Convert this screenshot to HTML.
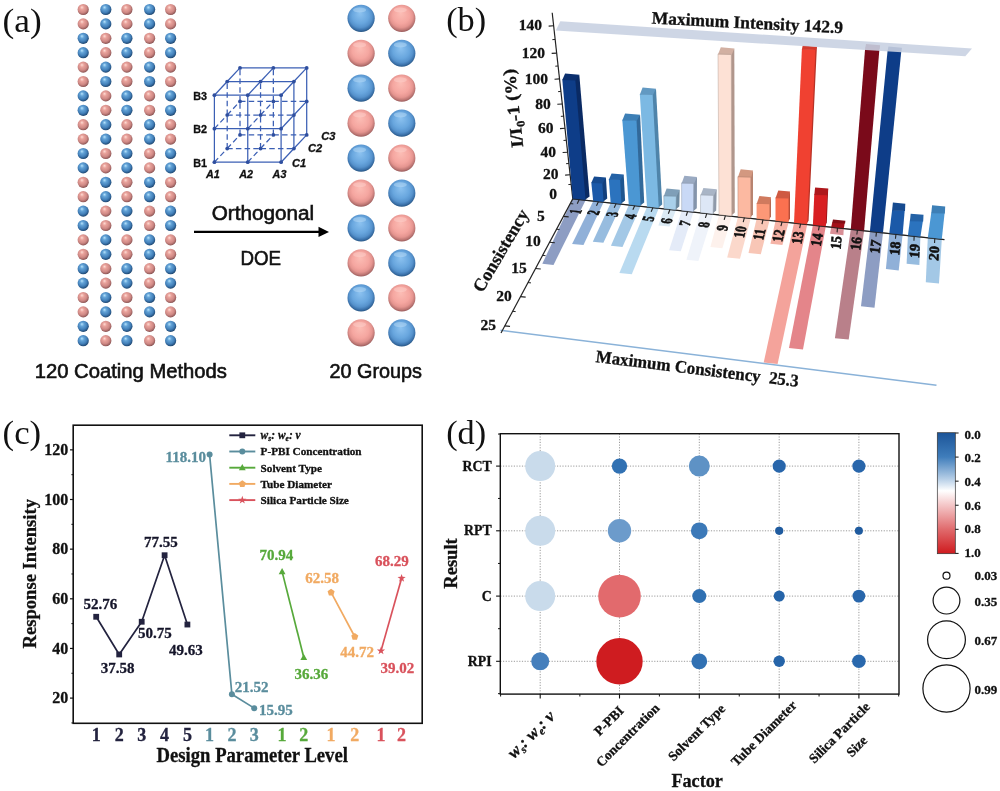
<!DOCTYPE html>
<html><head><meta charset="utf-8"><title>Figure</title>
<style>
html,body{margin:0;padding:0;background:#fff;}
body{width:1000px;height:791px;overflow:hidden;font-family:"Liberation Serif",serif;}
svg{display:block;will-change:transform;}
.sf{font-family:"Liberation Serif",serif;}
.ss{font-family:"Liberation Sans",sans-serif;}
.b{font-weight:bold;}
.i{font-style:italic;}
</style></head><body>
<svg width="1000" height="791" viewBox="0 0 1000 791">
<defs>
<radialGradient id="gp" cx="0.44" cy="0.40" r="0.60" fx="0.38" fy="0.30">
<stop offset="0" stop-color="#ffdcd4"/><stop offset="0.3" stop-color="#e9a29b"/><stop offset="0.68" stop-color="#cf8985"/><stop offset="0.88" stop-color="#a86a68"/><stop offset="1" stop-color="#834e4e"/>
</radialGradient>
<radialGradient id="gb" cx="0.44" cy="0.40" r="0.60" fx="0.38" fy="0.30">
<stop offset="0" stop-color="#b6e3fc"/><stop offset="0.3" stop-color="#63a3d7"/><stop offset="0.68" stop-color="#4380b9"/><stop offset="0.88" stop-color="#2b5d8f"/><stop offset="1" stop-color="#1c426a"/>
</radialGradient>
<radialGradient id="GP" cx="0.49" cy="0.44" r="0.56" fx="0.46" fy="0.32">
<stop offset="0" stop-color="#fcbdb5"/><stop offset="0.55" stop-color="#f5a6a0"/><stop offset="0.76" stop-color="#e59590"/><stop offset="0.9" stop-color="#bf7875"/><stop offset="1" stop-color="#9a5c5c"/>
</radialGradient>
<radialGradient id="GB" cx="0.49" cy="0.44" r="0.56" fx="0.46" fy="0.32">
<stop offset="0" stop-color="#8cc2f0"/><stop offset="0.55" stop-color="#68a6de"/><stop offset="0.76" stop-color="#5692cc"/><stop offset="0.9" stop-color="#3b72ab"/><stop offset="1" stop-color="#285684"/>
</radialGradient>
<linearGradient id="cbar" x1="0" y1="0" x2="0" y2="1">
<stop offset="0" stop-color="#1c5599"/><stop offset="0.2" stop-color="#3f7dbb"/><stop offset="0.38" stop-color="#b4cde6"/><stop offset="0.48" stop-color="#ffffff"/><stop offset="0.58" stop-color="#f6cfd0"/><stop offset="0.8" stop-color="#e06a6c"/><stop offset="1" stop-color="#cf1a1e"/>
</linearGradient>
</defs>
<rect x="0" y="0" width="1000" height="791" fill="#ffffff"/>

<g id="panelA">
<text x="2.6" y="31.8" class="sf" font-size="33.3" fill="#111" textLength="39.2" lengthAdjust="spacingAndGlyphs">(a)</text>
<circle cx="83.2" cy="9.5" r="5.6" fill="url(#gp)"/>
<circle cx="105.8" cy="9.5" r="5.6" fill="url(#gb)"/>
<circle cx="126.9" cy="9.5" r="5.6" fill="url(#gp)"/>
<circle cx="149.6" cy="9.5" r="5.6" fill="url(#gb)"/>
<circle cx="170.6" cy="9.5" r="5.6" fill="url(#gp)"/>
<circle cx="83.2" cy="23.9" r="5.6" fill="url(#gp)"/>
<circle cx="105.8" cy="23.9" r="5.6" fill="url(#gb)"/>
<circle cx="126.9" cy="23.9" r="5.6" fill="url(#gp)"/>
<circle cx="149.6" cy="23.9" r="5.6" fill="url(#gb)"/>
<circle cx="170.6" cy="23.9" r="5.6" fill="url(#gp)"/>
<circle cx="83.2" cy="38.3" r="5.6" fill="url(#gb)"/>
<circle cx="105.8" cy="38.3" r="5.6" fill="url(#gp)"/>
<circle cx="126.9" cy="38.3" r="5.6" fill="url(#gb)"/>
<circle cx="149.6" cy="38.3" r="5.6" fill="url(#gp)"/>
<circle cx="170.6" cy="38.3" r="5.6" fill="url(#gb)"/>
<circle cx="83.2" cy="52.7" r="5.6" fill="url(#gb)"/>
<circle cx="105.8" cy="52.7" r="5.6" fill="url(#gp)"/>
<circle cx="126.9" cy="52.7" r="5.6" fill="url(#gb)"/>
<circle cx="149.6" cy="52.7" r="5.6" fill="url(#gp)"/>
<circle cx="170.6" cy="52.7" r="5.6" fill="url(#gb)"/>
<circle cx="83.2" cy="67.1" r="5.6" fill="url(#gp)"/>
<circle cx="105.8" cy="67.1" r="5.6" fill="url(#gb)"/>
<circle cx="126.9" cy="67.1" r="5.6" fill="url(#gp)"/>
<circle cx="149.6" cy="67.1" r="5.6" fill="url(#gb)"/>
<circle cx="170.6" cy="67.1" r="5.6" fill="url(#gp)"/>
<circle cx="83.2" cy="81.5" r="5.6" fill="url(#gp)"/>
<circle cx="105.8" cy="81.5" r="5.6" fill="url(#gb)"/>
<circle cx="126.9" cy="81.5" r="5.6" fill="url(#gp)"/>
<circle cx="149.6" cy="81.5" r="5.6" fill="url(#gb)"/>
<circle cx="170.6" cy="81.5" r="5.6" fill="url(#gp)"/>
<circle cx="83.2" cy="95.9" r="5.6" fill="url(#gb)"/>
<circle cx="105.8" cy="95.9" r="5.6" fill="url(#gp)"/>
<circle cx="126.9" cy="95.9" r="5.6" fill="url(#gb)"/>
<circle cx="149.6" cy="95.9" r="5.6" fill="url(#gp)"/>
<circle cx="170.6" cy="95.9" r="5.6" fill="url(#gb)"/>
<circle cx="83.2" cy="110.3" r="5.6" fill="url(#gb)"/>
<circle cx="105.8" cy="110.3" r="5.6" fill="url(#gp)"/>
<circle cx="126.9" cy="110.3" r="5.6" fill="url(#gb)"/>
<circle cx="149.6" cy="110.3" r="5.6" fill="url(#gp)"/>
<circle cx="170.6" cy="110.3" r="5.6" fill="url(#gb)"/>
<circle cx="83.2" cy="124.7" r="5.6" fill="url(#gp)"/>
<circle cx="105.8" cy="124.7" r="5.6" fill="url(#gb)"/>
<circle cx="126.9" cy="124.7" r="5.6" fill="url(#gp)"/>
<circle cx="149.6" cy="124.7" r="5.6" fill="url(#gb)"/>
<circle cx="170.6" cy="124.7" r="5.6" fill="url(#gp)"/>
<circle cx="83.2" cy="139.1" r="5.6" fill="url(#gp)"/>
<circle cx="105.8" cy="139.1" r="5.6" fill="url(#gb)"/>
<circle cx="126.9" cy="139.1" r="5.6" fill="url(#gp)"/>
<circle cx="149.6" cy="139.1" r="5.6" fill="url(#gb)"/>
<circle cx="170.6" cy="139.1" r="5.6" fill="url(#gp)"/>
<circle cx="83.2" cy="153.5" r="5.6" fill="url(#gb)"/>
<circle cx="105.8" cy="153.5" r="5.6" fill="url(#gp)"/>
<circle cx="126.9" cy="153.5" r="5.6" fill="url(#gb)"/>
<circle cx="149.6" cy="153.5" r="5.6" fill="url(#gp)"/>
<circle cx="170.6" cy="153.5" r="5.6" fill="url(#gb)"/>
<circle cx="83.2" cy="167.9" r="5.6" fill="url(#gb)"/>
<circle cx="105.8" cy="167.9" r="5.6" fill="url(#gp)"/>
<circle cx="126.9" cy="167.9" r="5.6" fill="url(#gb)"/>
<circle cx="149.6" cy="167.9" r="5.6" fill="url(#gp)"/>
<circle cx="170.6" cy="167.9" r="5.6" fill="url(#gb)"/>
<circle cx="83.2" cy="182.3" r="5.6" fill="url(#gp)"/>
<circle cx="105.8" cy="182.3" r="5.6" fill="url(#gb)"/>
<circle cx="126.9" cy="182.3" r="5.6" fill="url(#gp)"/>
<circle cx="149.6" cy="182.3" r="5.6" fill="url(#gb)"/>
<circle cx="170.6" cy="182.3" r="5.6" fill="url(#gp)"/>
<circle cx="83.2" cy="196.7" r="5.6" fill="url(#gp)"/>
<circle cx="105.8" cy="196.7" r="5.6" fill="url(#gb)"/>
<circle cx="126.9" cy="196.7" r="5.6" fill="url(#gp)"/>
<circle cx="149.6" cy="196.7" r="5.6" fill="url(#gb)"/>
<circle cx="170.6" cy="196.7" r="5.6" fill="url(#gp)"/>
<circle cx="83.2" cy="211.1" r="5.6" fill="url(#gb)"/>
<circle cx="105.8" cy="211.1" r="5.6" fill="url(#gp)"/>
<circle cx="126.9" cy="211.1" r="5.6" fill="url(#gb)"/>
<circle cx="149.6" cy="211.1" r="5.6" fill="url(#gp)"/>
<circle cx="170.6" cy="211.1" r="5.6" fill="url(#gb)"/>
<circle cx="83.2" cy="225.5" r="5.6" fill="url(#gb)"/>
<circle cx="105.8" cy="225.5" r="5.6" fill="url(#gp)"/>
<circle cx="126.9" cy="225.5" r="5.6" fill="url(#gb)"/>
<circle cx="149.6" cy="225.5" r="5.6" fill="url(#gp)"/>
<circle cx="170.6" cy="225.5" r="5.6" fill="url(#gb)"/>
<circle cx="83.2" cy="239.9" r="5.6" fill="url(#gp)"/>
<circle cx="105.8" cy="239.9" r="5.6" fill="url(#gb)"/>
<circle cx="126.9" cy="239.9" r="5.6" fill="url(#gp)"/>
<circle cx="149.6" cy="239.9" r="5.6" fill="url(#gb)"/>
<circle cx="170.6" cy="239.9" r="5.6" fill="url(#gp)"/>
<circle cx="83.2" cy="254.3" r="5.6" fill="url(#gp)"/>
<circle cx="105.8" cy="254.3" r="5.6" fill="url(#gb)"/>
<circle cx="126.9" cy="254.3" r="5.6" fill="url(#gp)"/>
<circle cx="149.6" cy="254.3" r="5.6" fill="url(#gb)"/>
<circle cx="170.6" cy="254.3" r="5.6" fill="url(#gp)"/>
<circle cx="83.2" cy="268.7" r="5.6" fill="url(#gb)"/>
<circle cx="105.8" cy="268.7" r="5.6" fill="url(#gp)"/>
<circle cx="126.9" cy="268.7" r="5.6" fill="url(#gb)"/>
<circle cx="149.6" cy="268.7" r="5.6" fill="url(#gp)"/>
<circle cx="170.6" cy="268.7" r="5.6" fill="url(#gb)"/>
<circle cx="83.2" cy="283.1" r="5.6" fill="url(#gb)"/>
<circle cx="105.8" cy="283.1" r="5.6" fill="url(#gp)"/>
<circle cx="126.9" cy="283.1" r="5.6" fill="url(#gb)"/>
<circle cx="149.6" cy="283.1" r="5.6" fill="url(#gp)"/>
<circle cx="170.6" cy="283.1" r="5.6" fill="url(#gb)"/>
<circle cx="83.2" cy="297.5" r="5.6" fill="url(#gp)"/>
<circle cx="105.8" cy="297.5" r="5.6" fill="url(#gb)"/>
<circle cx="126.9" cy="297.5" r="5.6" fill="url(#gp)"/>
<circle cx="149.6" cy="297.5" r="5.6" fill="url(#gb)"/>
<circle cx="170.6" cy="297.5" r="5.6" fill="url(#gp)"/>
<circle cx="83.2" cy="311.9" r="5.6" fill="url(#gp)"/>
<circle cx="105.8" cy="311.9" r="5.6" fill="url(#gb)"/>
<circle cx="126.9" cy="311.9" r="5.6" fill="url(#gp)"/>
<circle cx="149.6" cy="311.9" r="5.6" fill="url(#gb)"/>
<circle cx="170.6" cy="311.9" r="5.6" fill="url(#gp)"/>
<circle cx="83.2" cy="326.3" r="5.6" fill="url(#gb)"/>
<circle cx="105.8" cy="326.3" r="5.6" fill="url(#gp)"/>
<circle cx="126.9" cy="326.3" r="5.6" fill="url(#gb)"/>
<circle cx="149.6" cy="326.3" r="5.6" fill="url(#gp)"/>
<circle cx="170.6" cy="326.3" r="5.6" fill="url(#gb)"/>
<circle cx="83.2" cy="340.7" r="5.6" fill="url(#gb)"/>
<circle cx="105.8" cy="340.7" r="5.6" fill="url(#gp)"/>
<circle cx="126.9" cy="340.7" r="5.6" fill="url(#gb)"/>
<circle cx="149.6" cy="340.7" r="5.6" fill="url(#gp)"/>
<circle cx="170.6" cy="340.7" r="5.6" fill="url(#gb)"/>
<circle cx="361.1" cy="18.3" r="13.6" fill="url(#GB)"/>
<ellipse cx="359.6" cy="10" rx="6.5" ry="2.6" fill="#c9e4fb" opacity="0.42"/>
<circle cx="401.8" cy="18.3" r="13.6" fill="url(#GP)"/>
<ellipse cx="400.3" cy="10" rx="6.5" ry="2.6" fill="#ffd9d4" opacity="0.42"/>
<circle cx="361.1" cy="53.25" r="13.6" fill="url(#GP)"/>
<ellipse cx="359.6" cy="44.95" rx="6.5" ry="2.6" fill="#ffd9d4" opacity="0.42"/>
<circle cx="401.8" cy="53.25" r="13.6" fill="url(#GB)"/>
<ellipse cx="400.3" cy="44.95" rx="6.5" ry="2.6" fill="#c9e4fb" opacity="0.42"/>
<circle cx="361.1" cy="88.2" r="13.6" fill="url(#GB)"/>
<ellipse cx="359.6" cy="79.9" rx="6.5" ry="2.6" fill="#c9e4fb" opacity="0.42"/>
<circle cx="401.8" cy="88.2" r="13.6" fill="url(#GP)"/>
<ellipse cx="400.3" cy="79.9" rx="6.5" ry="2.6" fill="#ffd9d4" opacity="0.42"/>
<circle cx="361.1" cy="123.15" r="13.6" fill="url(#GP)"/>
<ellipse cx="359.6" cy="114.85" rx="6.5" ry="2.6" fill="#ffd9d4" opacity="0.42"/>
<circle cx="401.8" cy="123.15" r="13.6" fill="url(#GB)"/>
<ellipse cx="400.3" cy="114.85" rx="6.5" ry="2.6" fill="#c9e4fb" opacity="0.42"/>
<circle cx="361.1" cy="158.1" r="13.6" fill="url(#GB)"/>
<ellipse cx="359.6" cy="149.8" rx="6.5" ry="2.6" fill="#c9e4fb" opacity="0.42"/>
<circle cx="401.8" cy="158.1" r="13.6" fill="url(#GP)"/>
<ellipse cx="400.3" cy="149.8" rx="6.5" ry="2.6" fill="#ffd9d4" opacity="0.42"/>
<circle cx="361.1" cy="193.05" r="13.6" fill="url(#GP)"/>
<ellipse cx="359.6" cy="184.75" rx="6.5" ry="2.6" fill="#ffd9d4" opacity="0.42"/>
<circle cx="401.8" cy="193.05" r="13.6" fill="url(#GB)"/>
<ellipse cx="400.3" cy="184.75" rx="6.5" ry="2.6" fill="#c9e4fb" opacity="0.42"/>
<circle cx="361.1" cy="228" r="13.6" fill="url(#GB)"/>
<ellipse cx="359.6" cy="219.7" rx="6.5" ry="2.6" fill="#c9e4fb" opacity="0.42"/>
<circle cx="401.8" cy="228" r="13.6" fill="url(#GP)"/>
<ellipse cx="400.3" cy="219.7" rx="6.5" ry="2.6" fill="#ffd9d4" opacity="0.42"/>
<circle cx="361.1" cy="262.95" r="13.6" fill="url(#GP)"/>
<ellipse cx="359.6" cy="254.65" rx="6.5" ry="2.6" fill="#ffd9d4" opacity="0.42"/>
<circle cx="401.8" cy="262.95" r="13.6" fill="url(#GB)"/>
<ellipse cx="400.3" cy="254.65" rx="6.5" ry="2.6" fill="#c9e4fb" opacity="0.42"/>
<circle cx="361.1" cy="297.9" r="13.6" fill="url(#GB)"/>
<ellipse cx="359.6" cy="289.6" rx="6.5" ry="2.6" fill="#c9e4fb" opacity="0.42"/>
<circle cx="401.8" cy="297.9" r="13.6" fill="url(#GP)"/>
<ellipse cx="400.3" cy="289.6" rx="6.5" ry="2.6" fill="#ffd9d4" opacity="0.42"/>
<circle cx="361.1" cy="332.85" r="13.6" fill="url(#GP)"/>
<ellipse cx="359.6" cy="324.55" rx="6.5" ry="2.6" fill="#ffd9d4" opacity="0.42"/>
<circle cx="401.8" cy="332.85" r="13.6" fill="url(#GB)"/>
<ellipse cx="400.3" cy="324.55" rx="6.5" ry="2.6" fill="#c9e4fb" opacity="0.42"/>
<line x1="214.4" y1="162.2" x2="247.75" y2="162.2" stroke="#3b5fb4" stroke-width="1.25"/>
<line x1="214.4" y1="162.2" x2="214.4" y2="128.7" stroke="#3b5fb4" stroke-width="1.25"/>
<line x1="214.4" y1="162.2" x2="227.2" y2="148.55" stroke="#3b5fb4" stroke-width="1.25" stroke-dasharray="5.5 3.2"/>
<line x1="227.2" y1="148.55" x2="260.55" y2="148.55" stroke="#3b5fb4" stroke-width="1.25" stroke-dasharray="5.5 3.2"/>
<line x1="227.2" y1="148.55" x2="227.2" y2="115.05" stroke="#3b5fb4" stroke-width="1.25" stroke-dasharray="5.5 3.2"/>
<line x1="227.2" y1="148.55" x2="240" y2="134.9" stroke="#3b5fb4" stroke-width="1.25" stroke-dasharray="5.5 3.2"/>
<line x1="240" y1="134.9" x2="273.35" y2="134.9" stroke="#3b5fb4" stroke-width="1.25" stroke-dasharray="5.5 3.2"/>
<line x1="240" y1="134.9" x2="240" y2="101.4" stroke="#3b5fb4" stroke-width="1.25" stroke-dasharray="5.5 3.2"/>
<line x1="214.4" y1="128.7" x2="247.75" y2="128.7" stroke="#3b5fb4" stroke-width="1.25"/>
<line x1="214.4" y1="128.7" x2="214.4" y2="95.2" stroke="#3b5fb4" stroke-width="1.25"/>
<line x1="214.4" y1="128.7" x2="227.2" y2="115.05" stroke="#3b5fb4" stroke-width="1.25" stroke-dasharray="5.5 3.2"/>
<line x1="227.2" y1="115.05" x2="260.55" y2="115.05" stroke="#3b5fb4" stroke-width="1.25" stroke-dasharray="5.5 3.2"/>
<line x1="227.2" y1="115.05" x2="227.2" y2="81.55" stroke="#3b5fb4" stroke-width="1.25" stroke-dasharray="5.5 3.2"/>
<line x1="227.2" y1="115.05" x2="240" y2="101.4" stroke="#3b5fb4" stroke-width="1.25" stroke-dasharray="5.5 3.2"/>
<line x1="240" y1="101.4" x2="273.35" y2="101.4" stroke="#3b5fb4" stroke-width="1.25" stroke-dasharray="5.5 3.2"/>
<line x1="240" y1="101.4" x2="240" y2="67.9" stroke="#3b5fb4" stroke-width="1.25" stroke-dasharray="5.5 3.2"/>
<line x1="214.4" y1="95.2" x2="247.75" y2="95.2" stroke="#3b5fb4" stroke-width="1.25"/>
<line x1="214.4" y1="95.2" x2="227.2" y2="81.55" stroke="#3b5fb4" stroke-width="1.25"/>
<line x1="227.2" y1="81.55" x2="260.55" y2="81.55" stroke="#3b5fb4" stroke-width="1.25"/>
<line x1="227.2" y1="81.55" x2="240" y2="67.9" stroke="#3b5fb4" stroke-width="1.25"/>
<line x1="240" y1="67.9" x2="273.35" y2="67.9" stroke="#3b5fb4" stroke-width="1.25"/>
<line x1="247.75" y1="162.2" x2="281.1" y2="162.2" stroke="#3b5fb4" stroke-width="1.25"/>
<line x1="247.75" y1="162.2" x2="247.75" y2="128.7" stroke="#3b5fb4" stroke-width="1.25"/>
<line x1="247.75" y1="162.2" x2="260.55" y2="148.55" stroke="#3b5fb4" stroke-width="1.25" stroke-dasharray="5.5 3.2"/>
<line x1="260.55" y1="148.55" x2="293.9" y2="148.55" stroke="#3b5fb4" stroke-width="1.25" stroke-dasharray="5.5 3.2"/>
<line x1="260.55" y1="148.55" x2="260.55" y2="115.05" stroke="#3b5fb4" stroke-width="1.25" stroke-dasharray="5.5 3.2"/>
<line x1="260.55" y1="148.55" x2="273.35" y2="134.9" stroke="#3b5fb4" stroke-width="1.25" stroke-dasharray="5.5 3.2"/>
<line x1="273.35" y1="134.9" x2="306.7" y2="134.9" stroke="#3b5fb4" stroke-width="1.25" stroke-dasharray="5.5 3.2"/>
<line x1="273.35" y1="134.9" x2="273.35" y2="101.4" stroke="#3b5fb4" stroke-width="1.25" stroke-dasharray="5.5 3.2"/>
<line x1="247.75" y1="128.7" x2="281.1" y2="128.7" stroke="#3b5fb4" stroke-width="1.25"/>
<line x1="247.75" y1="128.7" x2="247.75" y2="95.2" stroke="#3b5fb4" stroke-width="1.25"/>
<line x1="247.75" y1="128.7" x2="260.55" y2="115.05" stroke="#3b5fb4" stroke-width="1.25" stroke-dasharray="5.5 3.2"/>
<line x1="260.55" y1="115.05" x2="293.9" y2="115.05" stroke="#3b5fb4" stroke-width="1.25" stroke-dasharray="5.5 3.2"/>
<line x1="260.55" y1="115.05" x2="260.55" y2="81.55" stroke="#3b5fb4" stroke-width="1.25" stroke-dasharray="5.5 3.2"/>
<line x1="260.55" y1="115.05" x2="273.35" y2="101.4" stroke="#3b5fb4" stroke-width="1.25" stroke-dasharray="5.5 3.2"/>
<line x1="273.35" y1="101.4" x2="306.7" y2="101.4" stroke="#3b5fb4" stroke-width="1.25" stroke-dasharray="5.5 3.2"/>
<line x1="273.35" y1="101.4" x2="273.35" y2="67.9" stroke="#3b5fb4" stroke-width="1.25" stroke-dasharray="5.5 3.2"/>
<line x1="247.75" y1="95.2" x2="281.1" y2="95.2" stroke="#3b5fb4" stroke-width="1.25"/>
<line x1="247.75" y1="95.2" x2="260.55" y2="81.55" stroke="#3b5fb4" stroke-width="1.25"/>
<line x1="260.55" y1="81.55" x2="293.9" y2="81.55" stroke="#3b5fb4" stroke-width="1.25"/>
<line x1="260.55" y1="81.55" x2="273.35" y2="67.9" stroke="#3b5fb4" stroke-width="1.25"/>
<line x1="273.35" y1="67.9" x2="306.7" y2="67.9" stroke="#3b5fb4" stroke-width="1.25"/>
<line x1="281.1" y1="162.2" x2="281.1" y2="128.7" stroke="#3b5fb4" stroke-width="1.25"/>
<line x1="281.1" y1="162.2" x2="293.9" y2="148.55" stroke="#3b5fb4" stroke-width="1.25"/>
<line x1="293.9" y1="148.55" x2="293.9" y2="115.05" stroke="#3b5fb4" stroke-width="1.25"/>
<line x1="293.9" y1="148.55" x2="306.7" y2="134.9" stroke="#3b5fb4" stroke-width="1.25"/>
<line x1="306.7" y1="134.9" x2="306.7" y2="101.4" stroke="#3b5fb4" stroke-width="1.25"/>
<line x1="281.1" y1="128.7" x2="281.1" y2="95.2" stroke="#3b5fb4" stroke-width="1.25"/>
<line x1="281.1" y1="128.7" x2="293.9" y2="115.05" stroke="#3b5fb4" stroke-width="1.25"/>
<line x1="293.9" y1="115.05" x2="293.9" y2="81.55" stroke="#3b5fb4" stroke-width="1.25"/>
<line x1="293.9" y1="115.05" x2="306.7" y2="101.4" stroke="#3b5fb4" stroke-width="1.25"/>
<line x1="306.7" y1="101.4" x2="306.7" y2="67.9" stroke="#3b5fb4" stroke-width="1.25"/>
<line x1="281.1" y1="95.2" x2="293.9" y2="81.55" stroke="#3b5fb4" stroke-width="1.25"/>
<line x1="293.9" y1="81.55" x2="306.7" y2="67.9" stroke="#3b5fb4" stroke-width="1.25"/>
<circle cx="214.4" cy="162.2" r="1.9" fill="#2f4f9f"/>
<circle cx="227.2" cy="148.55" r="1.9" fill="#2f4f9f"/>
<circle cx="240" cy="134.9" r="1.9" fill="#2f4f9f"/>
<circle cx="214.4" cy="128.7" r="1.9" fill="#2f4f9f"/>
<circle cx="227.2" cy="115.05" r="1.9" fill="#2f4f9f"/>
<circle cx="240" cy="101.4" r="1.9" fill="#2f4f9f"/>
<circle cx="214.4" cy="95.2" r="1.9" fill="#2f4f9f"/>
<circle cx="227.2" cy="81.55" r="1.9" fill="#2f4f9f"/>
<circle cx="240" cy="67.9" r="1.9" fill="#2f4f9f"/>
<circle cx="247.75" cy="162.2" r="1.9" fill="#2f4f9f"/>
<circle cx="260.55" cy="148.55" r="1.9" fill="#2f4f9f"/>
<circle cx="273.35" cy="134.9" r="1.9" fill="#2f4f9f"/>
<circle cx="247.75" cy="128.7" r="1.9" fill="#2f4f9f"/>
<circle cx="260.55" cy="115.05" r="1.9" fill="#2f4f9f"/>
<circle cx="273.35" cy="101.4" r="1.9" fill="#2f4f9f"/>
<circle cx="247.75" cy="95.2" r="1.9" fill="#2f4f9f"/>
<circle cx="260.55" cy="81.55" r="1.9" fill="#2f4f9f"/>
<circle cx="273.35" cy="67.9" r="1.9" fill="#2f4f9f"/>
<circle cx="281.1" cy="162.2" r="1.9" fill="#2f4f9f"/>
<circle cx="293.9" cy="148.55" r="1.9" fill="#2f4f9f"/>
<circle cx="306.7" cy="134.9" r="1.9" fill="#2f4f9f"/>
<circle cx="281.1" cy="128.7" r="1.9" fill="#2f4f9f"/>
<circle cx="293.9" cy="115.05" r="1.9" fill="#2f4f9f"/>
<circle cx="306.7" cy="101.4" r="1.9" fill="#2f4f9f"/>
<circle cx="281.1" cy="95.2" r="1.9" fill="#2f4f9f"/>
<circle cx="293.9" cy="81.55" r="1.9" fill="#2f4f9f"/>
<circle cx="306.7" cy="67.9" r="1.9" fill="#2f4f9f"/>
<text x="193.3" y="166.8" class="ss b" font-size="11.3" fill="#111" textLength="13.8" lengthAdjust="spacingAndGlyphs" stroke="#111" stroke-width="0.3">B1</text>
<text x="193.3" y="133.3" class="ss b" font-size="11.3" fill="#111" textLength="13.8" lengthAdjust="spacingAndGlyphs" stroke="#111" stroke-width="0.3">B2</text>
<text x="193.3" y="99.8" class="ss b" font-size="11.3" fill="#111" textLength="13.8" lengthAdjust="spacingAndGlyphs" stroke="#111" stroke-width="0.3">B3</text>
<text x="205.9" y="178.2" class="ss b i" font-size="11" fill="#111" textLength="13.8" lengthAdjust="spacingAndGlyphs" stroke="#111" stroke-width="0.3">A1</text>
<text x="239.25" y="178.2" class="ss b i" font-size="11" fill="#111" textLength="13.8" lengthAdjust="spacingAndGlyphs" stroke="#111" stroke-width="0.3">A2</text>
<text x="272.6" y="178.2" class="ss b i" font-size="11" fill="#111" textLength="13.8" lengthAdjust="spacingAndGlyphs" stroke="#111" stroke-width="0.3">A3</text>
<text x="299.1" y="166.8" class="ss b i" font-size="11.5" fill="#111" text-anchor="middle" textLength="14.2" lengthAdjust="spacingAndGlyphs" stroke="#111" stroke-width="0.3">C1</text>
<text x="315" y="152.4" class="ss b i" font-size="11.5" fill="#111" text-anchor="middle" textLength="14.2" lengthAdjust="spacingAndGlyphs" stroke="#111" stroke-width="0.3">C2</text>
<text x="328.4" y="140.1" class="ss b i" font-size="11.5" fill="#111" text-anchor="middle" textLength="14.2" lengthAdjust="spacingAndGlyphs" stroke="#111" stroke-width="0.3">C3</text>
<line x1="194" y1="231.9" x2="320" y2="231.9" stroke="#000" stroke-width="2.3"/>
<polygon points="318.5,226.8 329,231.9 318.5,237" fill="#000"/>
<text x="211.7" y="220.2" class="ss" font-size="19.5" fill="#111" textLength="102.4" lengthAdjust="spacingAndGlyphs" stroke="#111" stroke-width="0.6">Orthogonal</text>
<text x="240.5" y="264.5" class="ss" font-size="20" fill="#111" textLength="40.6" lengthAdjust="spacingAndGlyphs" stroke="#111" stroke-width="0.6">DOE</text>
<text x="34.7" y="377.6" class="ss" font-size="19.5" fill="#111" textLength="192.3" lengthAdjust="spacingAndGlyphs" stroke="#111" stroke-width="0.6">120 Coating Methods</text>
<text x="329.5" y="377.6" class="ss" font-size="19.5" fill="#111" textLength="92.5" lengthAdjust="spacingAndGlyphs" stroke="#111" stroke-width="0.6">20 Groups</text>
</g>
<g id="panelB">
<text x="446.2" y="30.8" class="sf" font-size="33.3" fill="#111" textLength="40" lengthAdjust="spacingAndGlyphs">(b)</text>
<polygon points="572.8,198.9 585.6,200.3 553.5,264.92 542.3,263.8" fill="#8d9dc3"/>
<polygon points="593.2,201.13 603.6,202.27 583.5,245.04 572.1,243.9" fill="#90b0d8"/>
<polygon points="610.7,203.05 621.5,204.23 603.4,242.86 592.8,241.8" fill="#97bcdf"/>
<polygon points="628.8,205.03 640.6,206.32 622.5,246.96 610.9,245.8" fill="#a3c8e6"/>
<polygon points="647,207.02 658.8,208.31 631.8,274.14 619.4,272.9" fill="#b9daf0"/>
<polygon points="664,208.88 675.9,210.18 669.6,226.52 658.4,225.4" fill="#dbeaf4"/>
<polygon points="681.7,210.81 693.5,212.1 680.8,251.37 669.1,250.2" fill="#e4ebf8"/>
<polygon points="700.5,212.87 713,214.24 698.4,261 686.4,259.8" fill="#eff3fa"/>
<polygon points="719,214.89 731.8,216.29 722.4,248.2 710.4,247" fill="#fdf1ec"/>
<polygon points="738,216.97 750.8,218.37 740,258.68 727.2,257.4" fill="#fbd8cb"/>
<polygon points="756.6,219.01 769.5,220.42 760.8,254.13 748.5,252.9" fill="#f8c6b6"/>
<polygon points="775.5,221.08 788.6,222.51 782.4,245 770.4,243.8" fill="#f5b3a6"/>
<polygon points="794,223.1 807.2,224.54 777.6,363.99 763.7,362.6" fill="#f4a39b"/>
<polygon points="812.9,225.17 825.8,226.58 803,349.4 789,348" fill="#e4858a"/>
<polygon points="831.2,227.17 843.8,228.55 843.4,235.14 830,233.8" fill="#d98f96"/>
<polygon points="850.8,229.31 864.1,230.77 848.7,339.58 834.9,338.2" fill="#b9808a"/>
<polygon points="869.9,231.4 883,232.84 874.5,307.65 861,306.3" fill="#8d9dc3"/>
<polygon points="889.3,233.53 902.6,234.98 898.7,270.38 885.9,269.1" fill="#90b0d8"/>
<polygon points="907.9,235.56 920.4,236.93 919.4,265.08 906.6,263.8" fill="#97bcdf"/>
<polygon points="927.8,237.74 941.8,239.27 939,283.52 925.8,282.2" fill="#a3c8e6"/>
<line x1="500.5" y1="330.3" x2="936.5" y2="385.3" stroke="#8ab2d8" stroke-width="1.6"/>
<line x1="552.2" y1="12.8" x2="572.8" y2="198.9" stroke="#222" stroke-width="1.2"/>
<line x1="572.8" y1="198.9" x2="944.4" y2="239.6" stroke="#222" stroke-width="1.2"/>
<line x1="572.8" y1="198.9" x2="501.0" y2="333.0" stroke="#222" stroke-width="1.2"/>
<line x1="548.64" y1="26.1" x2="553.64" y2="25.8" stroke="#222" stroke-width="1.1"/>
<text x="542.04" y="30.4" class="sf b" font-size="15.5" fill="#111" text-anchor="end" stroke="#111" stroke-width="0.3">140</text>
<line x1="552.35" y1="39.65" x2="555.15" y2="39.45" stroke="#222" stroke-width="1"/>
<line x1="551.66" y1="53.4" x2="556.66" y2="53.1" stroke="#222" stroke-width="1.1"/>
<text x="545.06" y="57.7" class="sf b" font-size="15.5" fill="#111" text-anchor="end" stroke="#111" stroke-width="0.3">120</text>
<line x1="555.29" y1="66.2" x2="558.09" y2="66" stroke="#222" stroke-width="1"/>
<line x1="554.52" y1="79.2" x2="559.52" y2="78.9" stroke="#222" stroke-width="1.1"/>
<text x="547.92" y="83.5" class="sf b" font-size="15.5" fill="#111" text-anchor="end" stroke="#111" stroke-width="0.3">100</text>
<line x1="558.11" y1="91.65" x2="560.91" y2="91.45" stroke="#222" stroke-width="1"/>
<line x1="557.3" y1="104.3" x2="562.3" y2="104" stroke="#222" stroke-width="1.1"/>
<text x="550.7" y="108.6" class="sf b" font-size="15.5" fill="#111" text-anchor="end" stroke="#111" stroke-width="0.3">80</text>
<line x1="560.84" y1="116.35" x2="563.64" y2="116.15" stroke="#222" stroke-width="1"/>
<line x1="559.99" y1="128.6" x2="564.99" y2="128.3" stroke="#222" stroke-width="1.1"/>
<text x="553.39" y="132.9" class="sf b" font-size="15.5" fill="#111" text-anchor="end" stroke="#111" stroke-width="0.3">60</text>
<line x1="563.51" y1="140.45" x2="566.31" y2="140.25" stroke="#222" stroke-width="1"/>
<line x1="562.63" y1="152.5" x2="567.63" y2="152.2" stroke="#222" stroke-width="1.1"/>
<text x="556.03" y="156.8" class="sf b" font-size="15.5" fill="#111" text-anchor="end" stroke="#111" stroke-width="0.3">40</text>
<line x1="566.08" y1="163.7" x2="568.88" y2="163.5" stroke="#222" stroke-width="1"/>
<line x1="565.13" y1="175.1" x2="570.13" y2="174.8" stroke="#222" stroke-width="1.1"/>
<text x="558.53" y="179.4" class="sf b" font-size="15.5" fill="#111" text-anchor="end" stroke="#111" stroke-width="0.3">20</text>
<line x1="568.39" y1="184.55" x2="571.19" y2="184.35" stroke="#222" stroke-width="1"/>
<text x="557" y="198.5" class="sf b" font-size="15.5" fill="#111" text-anchor="end" stroke="#111" stroke-width="0.3">0</text>
<text transform="translate(513.6,108.4) rotate(-96.3)" class="sf b" font-size="17.5" fill="#111" text-anchor="middle" dy="5.4" textLength="79" lengthAdjust="spacingAndGlyphs" stroke="#111" stroke-width="0.3">I/I<tspan font-size="11.5" dy="3.6">0</tspan><tspan dy="-3.6">-1 (%)</tspan></text>
<line x1="563.47" y1="216.33" x2="568.67" y2="216.83" stroke="#222" stroke-width="1.1"/>
<text x="540.9" y="221.33" class="sf b" font-size="15.5" fill="#111" text-anchor="middle" stroke="#111" stroke-width="0.3">5</text>
<line x1="549.61" y1="242.21" x2="554.81" y2="242.71" stroke="#222" stroke-width="1.1"/>
<text x="540.81" y="246.41" class="sf b" font-size="15.5" fill="#111" text-anchor="end" stroke="#111" stroke-width="0.3">10</text>
<line x1="535.54" y1="268.5" x2="540.74" y2="269" stroke="#222" stroke-width="1.1"/>
<text x="526.74" y="272.7" class="sf b" font-size="15.5" fill="#111" text-anchor="end" stroke="#111" stroke-width="0.3">15</text>
<line x1="520.46" y1="296.66" x2="525.66" y2="297.16" stroke="#222" stroke-width="1.1"/>
<text x="511.66" y="300.86" class="sf b" font-size="15.5" fill="#111" text-anchor="end" stroke="#111" stroke-width="0.3">20</text>
<line x1="504.81" y1="325.89" x2="510.01" y2="326.39" stroke="#222" stroke-width="1.1"/>
<text x="496.01" y="330.09" class="sf b" font-size="15.5" fill="#111" text-anchor="end" stroke="#111" stroke-width="0.3">25</text>
<line x1="570.29" y1="203.59" x2="573.29" y2="203.89" stroke="#222" stroke-width="1"/>
<line x1="556.57" y1="229.21" x2="559.57" y2="229.51" stroke="#222" stroke-width="1"/>
<line x1="542.57" y1="255.36" x2="545.57" y2="255.66" stroke="#222" stroke-width="1"/>
<line x1="528" y1="282.58" x2="531" y2="282.88" stroke="#222" stroke-width="1"/>
<line x1="512.63" y1="311.28" x2="515.63" y2="311.58" stroke="#222" stroke-width="1"/>
<text transform="translate(501.3,251.0) rotate(-59.5)" class="sf b" font-size="18" fill="#111" text-anchor="middle" dy="5.2" textLength="92.5" lengthAdjust="spacingAndGlyphs" stroke="#111" stroke-width="0.3">Consistency</text>
<polygon points="574.1,79.79 574.1,78.99 579.3,74.77 589.6,196.5 584.4,200.3" fill="#0a2a63"/>
<polygon points="562.3,79.4 575.3,79.79 585.6,200.3 572.8,198.9" fill="#0e3d88"/>
<polygon points="562.3,80 565.1,73.6 579.3,74.77 575.6,80.39" fill="#0b2f6e"/>
<polygon points="601.1,182.83 601.1,182.03 605.9,177.39 607.2,198.47 602.4,202.27" fill="#123f7c"/>
<polygon points="591.3,182.5 602.3,182.83 603.6,202.27 593.2,201.13" fill="#1b59a8"/>
<polygon points="591.3,183.1 594.1,176.4 605.9,177.39 602.6,183.43" fill="#164b90"/>
<polygon points="618.9,179.44 618.9,178.64 623.7,174.42 625.1,200.43 620.3,204.23" fill="#1e568f"/>
<polygon points="608.8,179.1 620.1,179.44 621.5,204.23 610.7,203.05" fill="#2b73be"/>
<polygon points="608.8,179.7 611.6,173.4 623.7,174.42 620.4,180.04" fill="#2462a6"/>
<polygon points="635.3,120.23 635.3,119.43 640.1,114.68 644.2,202.52 639.4,206.32" fill="#32699a"/>
<polygon points="622.3,119.8 636.5,120.23 640.6,206.32 628.8,205.03" fill="#4b97d3"/>
<polygon points="622.3,120.4 625.1,113.4 640.1,114.68 636.8,120.83" fill="#3d7fb6"/>
<polygon points="651.4,94.48 651.4,93.68 656,88.65 662.2,204.51 657.6,208.31" fill="#4f84aa"/>
<polygon points="639.8,94.1 652.6,94.48 658.8,208.31 647,207.02" fill="#7cb9e3"/>
<polygon points="639.8,94.7 642.6,87.5 656,88.65 652.9,95.08" fill="#6299c2"/>
<polygon points="675.1,195.97 675.1,195.17 679.7,189.72 679.3,206.38 674.7,210.18" fill="#6d8aa0"/>
<polygon points="663.8,195.6 676.3,195.97 675.9,210.18 664,208.88" fill="#a9d0ea"/>
<polygon points="663.8,196.2 666.6,188.6 679.7,189.72 676.6,196.57" fill="#7f9fb8"/>
<polyline points="664,208.88 663.8,195.6 676.3,195.97 675.9,210.18" fill="none" stroke="#7995a8" stroke-width="0.5"/>
<polygon points="692.5,183.16 692.5,182.36 697,176.89 696.8,208.3 692.3,212.1" fill="#8494ab"/>
<polygon points="681.6,182.8 693.7,183.16 693.5,212.1 681.7,210.81" fill="#c9d9f6"/>
<polygon points="681.6,183.4 684.4,175.8 697,176.89 694,183.76" fill="#9aaac2"/>
<polyline points="681.7,210.81 681.6,182.8 693.7,183.16 693.5,212.1" fill="none" stroke="#909cb1" stroke-width="0.5"/>
<polygon points="712.3,195.09 712.3,194.29 716.7,189.16 716.2,210.44 711.8,214.24" fill="#8f9aaa"/>
<polygon points="700.6,194.7 713.5,195.09 713,214.24 700.5,212.87" fill="#dde7f6"/>
<polygon points="700.6,195.3 703.4,188 716.7,189.16 713.8,195.69" fill="#a9b5c6"/>
<polyline points="700.5,212.87 700.6,194.7 713.5,195.09 713,214.24" fill="none" stroke="#9fa6b1" stroke-width="0.5"/>
<polygon points="730.1,54.3 730.1,53.5 734.3,48.4 734.8,212.49 730.6,216.29" fill="#b0968c"/>
<polygon points="718,53.9 731.3,54.3 731.8,216.29 719,214.89" fill="#fde1d5"/>
<polygon points="718,54.5 720.8,47.2 734.3,48.4 731.6,54.9" fill="#d2b0a2"/>
<polyline points="719,214.89 718,53.9 731.3,54.3 731.8,216.29" fill="none" stroke="#b6a299" stroke-width="0.5"/>
<polygon points="749.6,176.99 749.6,176.19 753,170.46 753,214.57 749.6,218.37" fill="#b88470"/>
<polygon points="737.9,176.6 750.8,176.99 750.8,218.37 738,216.97" fill="#fcb9a1"/>
<polygon points="737.9,177.2 740.7,169.3 753,170.46 751.1,177.59" fill="#d39880"/>
<polyline points="738,216.97 737.9,176.6 750.8,176.99 750.8,218.37" fill="none" stroke="#b58573" stroke-width="0.5"/>
<polygon points="768.3,203.69 768.3,202.89 771,197.26 771,216.62 768.3,220.42" fill="#b76a52"/>
<polygon points="756.6,203.3 769.5,203.69 769.5,220.42 756.6,219.01" fill="#fc9877"/>
<polygon points="756.6,203.9 759.4,196.1 771,197.26 769.8,204.29" fill="#d07a5e"/>
<polygon points="787.4,197.99 787.4,197.19 790,191.58 790,218.71 787.4,222.51" fill="#b64e3a"/>
<polygon points="775.5,197.6 788.6,197.99 788.6,222.51 775.5,221.08" fill="#fb7150"/>
<polygon points="775.5,198.2 778.3,190.4 790,191.58 788.9,198.59" fill="#cf5a42"/>
<polygon points="814.3,49.41 814.3,48.61 816.9,46.82 808.6,220.74 806,224.54" fill="#b83226"/>
<polygon points="801.9,49 815.5,49.41 807.2,224.54 794,223.1" fill="#f04131"/>
<polygon points="801.9,49.6 802.7,45.6 816.9,46.82 815.8,50.01" fill="#d23a2c"/>
<polygon points="826,194.69 826,193.89 828.2,188.56 826.8,222.78 824.6,226.58" fill="#951418"/>
<polygon points="814.3,194.3 827.2,194.69 825.8,226.58 812.9,225.17" fill="#d81f22"/>
<polygon points="814.3,194.9 815.1,187.4 828.2,188.56 827.5,195.29" fill="#ae181c"/>
<polygon points="832.2,222.4 844.8,222.78 843.8,228.55 831.2,227.17" fill="#a3111a"/>
<polygon points="832.2,223 833,219.5 845.4,220.63 845.1,223.38" fill="#820d15"/>
<polygon points="865.2,47.6 879.5,48.03 864.1,230.77 850.8,229.31" fill="#7a0a1a"/>
<polygon points="865.2,48.2 866,44 880.1,45.29 879.8,48.63" fill="#650815"/>
<polygon points="887.6,50.5 901.3,50.91 883,232.84 869.9,231.4" fill="#0e3d88"/>
<polygon points="887.6,51.1 888.4,46.5 901.9,47.73 901.6,51.51" fill="#0b2f6e"/>
<polygon points="892.1,210 904.7,210.38 902.6,234.98 889.3,233.53" fill="#1b59a8"/>
<polygon points="892.1,210.6 892.9,202.6 905.3,203.73 905,210.98" fill="#164b90"/>
<polygon points="909.9,220.6 922.9,220.99 920.4,236.93 907.9,235.56" fill="#2b73be"/>
<polygon points="909.9,221.2 910.7,213.7 923.5,214.87 923.2,221.59" fill="#2462a6"/>
<polygon points="931.3,212.6 944.6,213 941.8,239.27 927.8,237.74" fill="#4b97d3"/>
<polygon points="931.3,213.2 932.1,205.2 945.2,206.4 944.9,213.6" fill="#3d7fb6"/>
<line x1="572.8" y1="198.9" x2="944.4" y2="239.6" stroke="#222" stroke-width="0.9" opacity="0.55"/>
<line x1="579.2" y1="199.6" x2="577.23" y2="203.65" stroke="#222" stroke-width="1.1"/>
<text transform="matrix(0.25 -0.5 0.99 0.11 575.6 211.6)" class="sf b" font-size="17" fill="#111" stroke="#111" stroke-width="0.7" text-anchor="middle" dy="5.6">1</text>
<line x1="598.4" y1="201.7" x2="596.43" y2="205.74" stroke="#222" stroke-width="1.1"/>
<text transform="matrix(0.25 -0.52 0.99 0.11 593.6 212.6)" class="sf b" font-size="17" fill="#111" stroke="#111" stroke-width="0.7" text-anchor="middle" dy="5.6">2</text>
<line x1="616.1" y1="203.64" x2="614.18" y2="207.71" stroke="#222" stroke-width="1.1"/>
<text transform="matrix(0.25 -0.53 0.98 0.11 612.2 214.3)" class="sf b" font-size="17" fill="#111" stroke="#111" stroke-width="0.7" text-anchor="middle" dy="5.6">3</text>
<line x1="634.7" y1="205.67" x2="632.86" y2="209.78" stroke="#222" stroke-width="1.1"/>
<text transform="matrix(0.25 -0.55 0.97 0.11 630.4 216.6)" class="sf b" font-size="17" fill="#111" stroke="#111" stroke-width="0.7" text-anchor="middle" dy="5.6">4</text>
<line x1="652.9" y1="207.66" x2="651.16" y2="211.81" stroke="#222" stroke-width="1.1"/>
<text transform="matrix(0.24 -0.57 0.96 0.11 648.4 218.6)" class="sf b" font-size="17" fill="#111" stroke="#111" stroke-width="0.7" text-anchor="middle" dy="5.6">5</text>
<line x1="669.95" y1="209.53" x2="668.37" y2="213.74" stroke="#222" stroke-width="1.1"/>
<text transform="matrix(0.22 -0.6 0.95 0.1 666.6 220.8)" class="sf b" font-size="17" fill="#111" stroke="#111" stroke-width="0.7" text-anchor="middle" dy="5.6">6</text>
<line x1="687.6" y1="211.46" x2="686.2" y2="215.74" stroke="#222" stroke-width="1.1"/>
<text transform="matrix(0.2 -0.62 0.94 0.1 685 223.3)" class="sf b" font-size="17" fill="#111" stroke="#111" stroke-width="0.7" text-anchor="middle" dy="5.6">7</text>
<line x1="706.75" y1="213.55" x2="705.42" y2="217.85" stroke="#222" stroke-width="1.1"/>
<text transform="matrix(0.2 -0.64 0.93 0.1 704 224.8)" class="sf b" font-size="17" fill="#111" stroke="#111" stroke-width="0.7" text-anchor="middle" dy="5.6">8</text>
<line x1="725.4" y1="215.59" x2="724.16" y2="219.92" stroke="#222" stroke-width="1.1"/>
<text transform="matrix(0.19 -0.66 0.93 0.1 722.4 227.9)" class="sf b" font-size="17" fill="#111" stroke="#111" stroke-width="0.7" text-anchor="middle" dy="5.6">9</text>
<line x1="744.4" y1="217.67" x2="743.22" y2="222.02" stroke="#222" stroke-width="1.1"/>
<text transform="matrix(0.18 -0.67 0.92 0.1 740.2 232)" class="sf b" font-size="17" fill="#111" stroke="#111" stroke-width="0.7" text-anchor="middle" dy="5.6">10</text>
<line x1="763.05" y1="219.71" x2="761.95" y2="224.08" stroke="#222" stroke-width="1.1"/>
<text transform="matrix(0.17 -0.69 0.91 0.1 759.2 234.4)" class="sf b" font-size="17" fill="#111" stroke="#111" stroke-width="0.7" text-anchor="middle" dy="5.6">11</text>
<line x1="782.05" y1="221.79" x2="780.93" y2="226.15" stroke="#222" stroke-width="1.1"/>
<text transform="matrix(0.18 -0.71 0.9 0.1 778.4 235.6)" class="sf b" font-size="17" fill="#111" stroke="#111" stroke-width="0.7" text-anchor="middle" dy="5.6">12</text>
<line x1="800.6" y1="223.82" x2="799.65" y2="228.22" stroke="#222" stroke-width="1.1"/>
<text transform="matrix(0.16 -0.73 0.89 0.1 797.6 237.8)" class="sf b" font-size="17" fill="#111" stroke="#111" stroke-width="0.7" text-anchor="middle" dy="5.6">13</text>
<line x1="819.35" y1="225.87" x2="818.5" y2="230.29" stroke="#222" stroke-width="1.1"/>
<text transform="matrix(0.14 -0.75 0.88 0.1 816.8 239.8)" class="sf b" font-size="17" fill="#111" stroke="#111" stroke-width="0.7" text-anchor="middle" dy="5.6">14</text>
<line x1="837.5" y1="227.86" x2="837.1" y2="232.34" stroke="#222" stroke-width="1.1"/>
<text transform="matrix(0.07 -0.77 0.88 0.1 836.1 242.6)" class="sf b" font-size="17" fill="#111" stroke="#111" stroke-width="0.7" text-anchor="middle" dy="5.6">15</text>
<line x1="857.45" y1="230.04" x2="856.81" y2="234.49" stroke="#222" stroke-width="1.1"/>
<text transform="matrix(0.11 -0.78 0.87 0.1 856.1 243.6)" class="sf b" font-size="17" fill="#111" stroke="#111" stroke-width="0.7" text-anchor="middle" dy="5.6">16</text>
<line x1="876.45" y1="232.12" x2="875.93" y2="236.59" stroke="#222" stroke-width="1.1"/>
<text transform="matrix(0.09 -0.8 0.86 0.09 875.3 246.8)" class="sf b" font-size="17" fill="#111" stroke="#111" stroke-width="0.7" text-anchor="middle" dy="5.6">17</text>
<line x1="895.95" y1="234.25" x2="895.48" y2="238.73" stroke="#222" stroke-width="1.1"/>
<text transform="matrix(0.09 -0.82 0.85 0.09 894.9 248.4)" class="sf b" font-size="17" fill="#111" stroke="#111" stroke-width="0.7" text-anchor="middle" dy="5.6">18</text>
<line x1="914.15" y1="236.24" x2="913.96" y2="240.74" stroke="#222" stroke-width="1.1"/>
<text transform="matrix(0.03 -0.83 0.84 0.09 914.5 251)" class="sf b" font-size="17" fill="#111" stroke="#111" stroke-width="0.7" text-anchor="middle" dy="5.6">19</text>
<line x1="934.8" y1="238.5" x2="934.55" y2="243" stroke="#222" stroke-width="1.1"/>
<text transform="matrix(0.05 -0.85 0.83 0.09 934.1 253.3)" class="sf b" font-size="17" fill="#111" stroke="#111" stroke-width="0.7" text-anchor="middle" dy="5.6">20</text>
<polygon points="560.3,21.2 972,48.6 965.3,56.3 555.8,30.6" fill="#c9d1e2" opacity="0.9"/>
<text transform="translate(651.5,23.6) rotate(2.9)" class="sf b" font-size="17.5" fill="#111" textLength="191.5" lengthAdjust="spacingAndGlyphs" stroke="#111" stroke-width="0.3">Maximum Intensity 142.9</text>
<text transform="translate(595.3,362.0) rotate(7.0)" class="sf b" font-size="17.5" fill="#111" textLength="204" lengthAdjust="spacingAndGlyphs" stroke="#111" stroke-width="0.3">Maximum Consistency&#160;&#160;25.3</text>
</g>
<g id="panelC">
<text x="2.6" y="443.6" class="sf" font-size="33.3" fill="#111" textLength="38.6" lengthAdjust="spacingAndGlyphs">(c)</text>
<rect x="73.2" y="425.2" width="349" height="298.1" fill="none" stroke="#111" stroke-width="1.6"/>
<line x1="70" y1="698.1" x2="73.2" y2="698.1" stroke="#111" stroke-width="1.2"/>
<text x="68.2" y="703.4" class="sf b" font-size="16" fill="#111" text-anchor="end" stroke="#111" stroke-width="0.3">20</text>
<line x1="70" y1="648.45" x2="73.2" y2="648.45" stroke="#111" stroke-width="1.2"/>
<text x="68.2" y="653.75" class="sf b" font-size="16" fill="#111" text-anchor="end" stroke="#111" stroke-width="0.3">40</text>
<line x1="70" y1="598.8" x2="73.2" y2="598.8" stroke="#111" stroke-width="1.2"/>
<text x="68.2" y="604.1" class="sf b" font-size="16" fill="#111" text-anchor="end" stroke="#111" stroke-width="0.3">60</text>
<line x1="70" y1="549.15" x2="73.2" y2="549.15" stroke="#111" stroke-width="1.2"/>
<text x="68.2" y="554.45" class="sf b" font-size="16" fill="#111" text-anchor="end" stroke="#111" stroke-width="0.3">80</text>
<line x1="70" y1="499.5" x2="73.2" y2="499.5" stroke="#111" stroke-width="1.2"/>
<text x="68.2" y="504.8" class="sf b" font-size="16" fill="#111" text-anchor="end" stroke="#111" stroke-width="0.3">100</text>
<line x1="70" y1="449.85" x2="73.2" y2="449.85" stroke="#111" stroke-width="1.2"/>
<text x="68.2" y="455.15" class="sf b" font-size="16" fill="#111" text-anchor="end" stroke="#111" stroke-width="0.3">120</text>
<line x1="71.4" y1="722.93" x2="73.2" y2="722.93" stroke="#111" stroke-width="1"/>
<line x1="71.4" y1="673.27" x2="73.2" y2="673.27" stroke="#111" stroke-width="1"/>
<line x1="71.4" y1="623.62" x2="73.2" y2="623.62" stroke="#111" stroke-width="1"/>
<line x1="71.4" y1="573.98" x2="73.2" y2="573.98" stroke="#111" stroke-width="1"/>
<line x1="71.4" y1="524.33" x2="73.2" y2="524.33" stroke="#111" stroke-width="1"/>
<line x1="71.4" y1="474.68" x2="73.2" y2="474.68" stroke="#111" stroke-width="1"/>
<text transform="translate(35.8,573.8) rotate(-90)" class="sf b" font-size="18.5" fill="#111" text-anchor="middle" textLength="149.5" lengthAdjust="spacingAndGlyphs" stroke="#111" stroke-width="0.3">Response Intensity</text>
<text x="156.6" y="761.6" class="sf b" font-size="20" fill="#111" textLength="191.3" lengthAdjust="spacingAndGlyphs" stroke="#111" stroke-width="0.3">Design Parameter Level</text>
<polyline points="96.2,616.77 119.2,654.46 141.7,621.76 164.6,555.23 187.4,624.54" fill="none" stroke="#23233f" stroke-width="1.7" stroke-linejoin="round"/>
<rect x="93.3" y="613.87" width="5.8" height="5.8" fill="#23233f"/>
<rect x="116.3" y="651.56" width="5.8" height="5.8" fill="#23233f"/>
<rect x="138.8" y="618.86" width="5.8" height="5.8" fill="#23233f"/>
<rect x="161.7" y="552.33" width="5.8" height="5.8" fill="#23233f"/>
<rect x="184.5" y="621.64" width="5.8" height="5.8" fill="#23233f"/>
<text x="96.2" y="740.8" class="sf b" font-size="18" fill="#23233f" text-anchor="middle" stroke="#23233f" stroke-width="0.3">1</text>
<text x="119.2" y="740.8" class="sf b" font-size="18" fill="#23233f" text-anchor="middle" stroke="#23233f" stroke-width="0.3">2</text>
<text x="141.7" y="740.8" class="sf b" font-size="18" fill="#23233f" text-anchor="middle" stroke="#23233f" stroke-width="0.3">3</text>
<text x="164.6" y="740.8" class="sf b" font-size="18" fill="#23233f" text-anchor="middle" stroke="#23233f" stroke-width="0.3">4</text>
<text x="187.4" y="740.8" class="sf b" font-size="18" fill="#23233f" text-anchor="middle" stroke="#23233f" stroke-width="0.3">5</text>
<polyline points="209.6,454.57 231.9,694.33 254.2,708.15" fill="none" stroke="#5a8d9d" stroke-width="1.7" stroke-linejoin="round"/>
<circle cx="209.6" cy="454.57" r="3" fill="#5a8d9d"/>
<circle cx="231.9" cy="694.33" r="3" fill="#5a8d9d"/>
<circle cx="254.2" cy="708.15" r="3" fill="#5a8d9d"/>
<text x="209.6" y="740.8" class="sf b" font-size="18" fill="#5a8d9d" text-anchor="middle" stroke="#5a8d9d" stroke-width="0.3">1</text>
<text x="231.9" y="740.8" class="sf b" font-size="18" fill="#5a8d9d" text-anchor="middle" stroke="#5a8d9d" stroke-width="0.3">2</text>
<text x="254.2" y="740.8" class="sf b" font-size="18" fill="#5a8d9d" text-anchor="middle" stroke="#5a8d9d" stroke-width="0.3">3</text>
<polyline points="282.1,571.64 303.8,657.49" fill="none" stroke="#57a93b" stroke-width="1.7" stroke-linejoin="round"/>
<polygon points="282.1,568.04 278.68,574.23 285.52,574.23" fill="#57a93b"/>
<polygon points="303.8,653.89 300.38,660.08 307.22,660.08" fill="#57a93b"/>
<text x="282.1" y="740.8" class="sf b" font-size="18" fill="#57a93b" text-anchor="middle" stroke="#57a93b" stroke-width="0.3">1</text>
<text x="303.8" y="740.8" class="sf b" font-size="18" fill="#57a93b" text-anchor="middle" stroke="#57a93b" stroke-width="0.3">2</text>
<polyline points="331.1,592.4 354.8,636.73" fill="none" stroke="#f1aa62" stroke-width="1.7" stroke-linejoin="round"/>
<polygon points="331.1,588.7 334.62,591.25 333.27,595.39 328.93,595.39 327.58,591.25" fill="#f1aa62"/>
<polygon points="354.8,633.03 358.32,635.59 356.97,639.73 352.63,639.73 351.28,635.59" fill="#f1aa62"/>
<text x="331.1" y="740.8" class="sf b" font-size="18" fill="#f1aa62" text-anchor="middle" stroke="#f1aa62" stroke-width="0.3">1</text>
<text x="354.8" y="740.8" class="sf b" font-size="18" fill="#f1aa62" text-anchor="middle" stroke="#f1aa62" stroke-width="0.3">2</text>
<polyline points="381,650.88 401.6,578.22" fill="none" stroke="#d9525c" stroke-width="1.7" stroke-linejoin="round"/>
<polygon points="381,646.58 382,649.51 385.09,649.55 382.62,651.41 383.53,654.36 381,652.58 378.47,654.36 379.38,651.41 376.91,649.55 380,649.51" fill="#d9525c"/>
<polygon points="401.6,573.92 402.6,576.84 405.69,576.89 403.22,578.75 404.13,581.7 401.6,579.92 399.07,581.7 399.98,578.75 397.51,576.89 400.6,576.84" fill="#d9525c"/>
<text x="381" y="740.8" class="sf b" font-size="18" fill="#d9525c" text-anchor="middle" stroke="#d9525c" stroke-width="0.3">1</text>
<text x="401.6" y="740.8" class="sf b" font-size="18" fill="#d9525c" text-anchor="middle" stroke="#d9525c" stroke-width="0.3">2</text>
<text x="83.5" y="609.4" class="sf b" font-size="15" fill="#15152a" stroke="#15152a" stroke-width="0.3">52.76</text>
<text x="100.8" y="673" class="sf b" font-size="15" fill="#15152a" stroke="#15152a" stroke-width="0.3">37.58</text>
<text x="138" y="638.2" class="sf b" font-size="15" fill="#15152a" stroke="#15152a" stroke-width="0.3">50.75</text>
<text x="144" y="547" class="sf b" font-size="15" fill="#15152a" stroke="#15152a" stroke-width="0.3">77.55</text>
<text x="169" y="655" class="sf b" font-size="15" fill="#15152a" stroke="#15152a" stroke-width="0.3">49.63</text>
<text x="165.6" y="461.8" class="sf b" font-size="15" fill="#5a8d9d" stroke="#5a8d9d" stroke-width="0.3">118.10</text>
<text x="234.8" y="692.3" class="sf b" font-size="15" fill="#5a8d9d" stroke="#5a8d9d" stroke-width="0.3">21.52</text>
<text x="259" y="715" class="sf b" font-size="15" fill="#5a8d9d" stroke="#5a8d9d" stroke-width="0.3">15.95</text>
<text x="259.4" y="560.3" class="sf b" font-size="15" fill="#57a93b" stroke="#57a93b" stroke-width="0.3">70.94</text>
<text x="294.4" y="679.2" class="sf b" font-size="15" fill="#57a93b" stroke="#57a93b" stroke-width="0.3">36.36</text>
<text x="305.2" y="583.2" class="sf b" font-size="15" fill="#f1aa62" stroke="#f1aa62" stroke-width="0.3">62.58</text>
<text x="340.2" y="656.6" class="sf b" font-size="15" fill="#f1aa62" stroke="#f1aa62" stroke-width="0.3">44.72</text>
<text x="374.9" y="565.9" class="sf b" font-size="15" fill="#d9525c" stroke="#d9525c" stroke-width="0.3">68.29</text>
<text x="380.4" y="672.6" class="sf b" font-size="15" fill="#d9525c" stroke="#d9525c" stroke-width="0.3">39.02</text>
<line x1="229.3" y1="435.3" x2="255.3" y2="435.3" stroke="#23233f" stroke-width="1.9"/>
<rect x="239.4" y="432.4" width="5.8" height="5.8" fill="#23233f"/>
<text x="260.6" y="438.5" class="sf b i" font-size="11.5" fill="#111" stroke="#111" stroke-width="0.3">w<tspan font-size="7.5" dy="2.4">s</tspan><tspan dy="-2.4">: w</tspan><tspan font-size="7.5" dy="2.4">e</tspan><tspan dy="-2.4">: v</tspan></text>
<line x1="229.3" y1="451.5" x2="255.3" y2="451.5" stroke="#5a8d9d" stroke-width="1.9"/>
<circle cx="242.3" cy="451.5" r="3" fill="#5a8d9d"/>
<text x="260.6" y="455.3" class="sf b" font-size="11.2" fill="#111" stroke="#111" stroke-width="0.3">P-PBI Concentration</text>
<line x1="229.3" y1="467.7" x2="255.3" y2="467.7" stroke="#57a93b" stroke-width="1.9"/>
<polygon points="242.3,464.1 238.88,470.29 245.72,470.29" fill="#57a93b"/>
<text x="260.6" y="471.5" class="sf b" font-size="11.2" fill="#111" stroke="#111" stroke-width="0.3">Solvent Type</text>
<line x1="229.3" y1="483.9" x2="255.3" y2="483.9" stroke="#f1aa62" stroke-width="1.9"/>
<polygon points="242.3,480.2 245.82,482.76 244.47,486.89 240.13,486.89 238.78,482.76" fill="#f1aa62"/>
<text x="260.6" y="487.7" class="sf b" font-size="11.2" fill="#111" stroke="#111" stroke-width="0.3">Tube Diameter</text>
<line x1="229.3" y1="500.1" x2="255.3" y2="500.1" stroke="#d9525c" stroke-width="1.9"/>
<polygon points="242.3,495.8 243.3,498.72 246.39,498.77 243.92,500.63 244.83,503.58 242.3,501.8 239.77,503.58 240.68,500.63 238.21,498.77 241.3,498.72" fill="#d9525c"/>
<text x="260.6" y="503.9" class="sf b" font-size="11.2" fill="#111" stroke="#111" stroke-width="0.3">Silica Particle Size</text>
</g>
<g id="panelD">
<text x="446.2" y="443.8" class="sf" font-size="33.3" fill="#111" textLength="40" lengthAdjust="spacingAndGlyphs">(d)</text>
<line x1="540.2" y1="433.7" x2="540.2" y2="694.1" stroke="#8e8e8e" stroke-width="0.9" stroke-dasharray="1.2 1.5"/>
<line x1="619.5" y1="433.7" x2="619.5" y2="694.1" stroke="#8e8e8e" stroke-width="0.9" stroke-dasharray="1.2 1.5"/>
<line x1="699.3" y1="433.7" x2="699.3" y2="694.1" stroke="#8e8e8e" stroke-width="0.9" stroke-dasharray="1.2 1.5"/>
<line x1="779.2" y1="433.7" x2="779.2" y2="694.1" stroke="#8e8e8e" stroke-width="0.9" stroke-dasharray="1.2 1.5"/>
<line x1="858.9" y1="433.7" x2="858.9" y2="694.1" stroke="#8e8e8e" stroke-width="0.9" stroke-dasharray="1.2 1.5"/>
<line x1="500.3" y1="466.1" x2="899.0" y2="466.1" stroke="#8e8e8e" stroke-width="0.9" stroke-dasharray="1.2 1.5"/>
<line x1="500.3" y1="530.8" x2="899.0" y2="530.8" stroke="#8e8e8e" stroke-width="0.9" stroke-dasharray="1.2 1.5"/>
<line x1="500.3" y1="596.1" x2="899.0" y2="596.1" stroke="#8e8e8e" stroke-width="0.9" stroke-dasharray="1.2 1.5"/>
<line x1="500.3" y1="661.3" x2="899.0" y2="661.3" stroke="#8e8e8e" stroke-width="0.9" stroke-dasharray="1.2 1.5"/>
<circle cx="540.2" cy="466.1" r="15" fill="#c9dbeb"/>
<circle cx="540.2" cy="530.8" r="15" fill="#c9dbeb"/>
<circle cx="540.2" cy="596.1" r="15" fill="#c9dbeb"/>
<circle cx="540.2" cy="661.3" r="9" fill="#457fbc"/>
<circle cx="619.5" cy="466.1" r="7.7" fill="#3171b3"/>
<circle cx="619.5" cy="530.8" r="11.7" fill="#6c9bcb"/>
<circle cx="619.5" cy="596.1" r="21.3" fill="#e26a6d"/>
<circle cx="619.5" cy="661.3" r="23.2" fill="#cf1c20"/>
<circle cx="699.3" cy="466.1" r="10.5" fill="#5e92c5"/>
<circle cx="699.3" cy="530.8" r="8.4" fill="#3c79b8"/>
<circle cx="699.3" cy="596.1" r="7" fill="#2f70b2"/>
<circle cx="699.3" cy="661.3" r="7.9" fill="#3171b3"/>
<circle cx="779.2" cy="466.1" r="6.6" fill="#2866ab"/>
<circle cx="779.2" cy="530.8" r="4.1" fill="#1f5b9f"/>
<circle cx="779.2" cy="596.1" r="5.5" fill="#2564a9"/>
<circle cx="779.2" cy="661.3" r="5.7" fill="#2564a9"/>
<circle cx="858.9" cy="466.1" r="6.6" fill="#2866ab"/>
<circle cx="858.9" cy="530.8" r="4" fill="#1f5b9f"/>
<circle cx="858.9" cy="596.1" r="6.4" fill="#2866ab"/>
<circle cx="858.9" cy="661.3" r="6.8" fill="#2968ad"/>
<rect x="500.3" y="433.7" width="398.7" height="260.4" fill="none" stroke="#111" stroke-width="1.4"/>
<line x1="496.1" y1="466.1" x2="500.3" y2="466.1" stroke="#111" stroke-width="1.1"/>
<text x="491.6" y="470.7" class="sf b" font-size="13.8" fill="#111" text-anchor="end" stroke="#111" stroke-width="0.3">RCT</text>
<line x1="496.1" y1="530.8" x2="500.3" y2="530.8" stroke="#111" stroke-width="1.1"/>
<text x="491.6" y="535.4" class="sf b" font-size="13.8" fill="#111" text-anchor="end" stroke="#111" stroke-width="0.3">RPT</text>
<line x1="496.1" y1="596.1" x2="500.3" y2="596.1" stroke="#111" stroke-width="1.1"/>
<text x="491.6" y="600.7" class="sf b" font-size="13.8" fill="#111" text-anchor="end" stroke="#111" stroke-width="0.3">C</text>
<line x1="496.1" y1="661.3" x2="500.3" y2="661.3" stroke="#111" stroke-width="1.1"/>
<text x="491.6" y="665.9" class="sf b" font-size="13.8" fill="#111" text-anchor="end" stroke="#111" stroke-width="0.3">RPI</text>
<line x1="498" y1="498.45" x2="500.3" y2="498.45" stroke="#111" stroke-width="1"/>
<line x1="498" y1="563.45" x2="500.3" y2="563.45" stroke="#111" stroke-width="1"/>
<line x1="498" y1="628.7" x2="500.3" y2="628.7" stroke="#111" stroke-width="1"/>
<line x1="498" y1="434.05" x2="500.3" y2="434.05" stroke="#111" stroke-width="1"/>
<line x1="498" y1="693.65" x2="500.3" y2="693.65" stroke="#111" stroke-width="1"/>
<line x1="540.2" y1="694.1" x2="540.2" y2="698.5" stroke="#111" stroke-width="1.1"/>
<line x1="619.5" y1="694.1" x2="619.5" y2="698.5" stroke="#111" stroke-width="1.1"/>
<line x1="699.3" y1="694.1" x2="699.3" y2="698.5" stroke="#111" stroke-width="1.1"/>
<line x1="779.2" y1="694.1" x2="779.2" y2="698.5" stroke="#111" stroke-width="1.1"/>
<line x1="858.9" y1="694.1" x2="858.9" y2="698.5" stroke="#111" stroke-width="1.1"/>
<line x1="579.85" y1="694.1" x2="579.85" y2="696.5" stroke="#111" stroke-width="1"/>
<line x1="659.4" y1="694.1" x2="659.4" y2="696.5" stroke="#111" stroke-width="1"/>
<line x1="739.25" y1="694.1" x2="739.25" y2="696.5" stroke="#111" stroke-width="1"/>
<line x1="819.05" y1="694.1" x2="819.05" y2="696.5" stroke="#111" stroke-width="1"/>
<line x1="500.6" y1="694.1" x2="500.6" y2="696.5" stroke="#111" stroke-width="1"/>
<line x1="898.7" y1="694.1" x2="898.7" y2="696.5" stroke="#111" stroke-width="1"/>
<text transform="translate(457.2,563.5) rotate(-90)" class="sf b" font-size="18.5" fill="#111" text-anchor="middle" textLength="50.5" lengthAdjust="spacingAndGlyphs" stroke="#111" stroke-width="0.3">Result</text>
<text x="671.4" y="787.3" class="sf b" font-size="18.5" fill="#111" textLength="51.5" lengthAdjust="spacingAndGlyphs" stroke="#111" stroke-width="0.3">Factor</text>
<text transform="translate(609,721) rotate(-45)" class="sf b" font-size="13.5" fill="#111" text-anchor="middle" dy="4.3" stroke="#111" stroke-width="0.3">P-PBI</text>
<text transform="translate(627.8,735.2) rotate(-45)" class="sf b" font-size="13.5" fill="#111" text-anchor="middle" dy="4.3" stroke="#111" stroke-width="0.3">Concentration</text>
<text transform="translate(696.6,732.6) rotate(-45)" class="sf b" font-size="13.5" fill="#111" text-anchor="middle" dy="4.3" stroke="#111" stroke-width="0.3">Solvent Type</text>
<text transform="translate(764,733.4) rotate(-45)" class="sf b" font-size="13.5" fill="#111" text-anchor="middle" dy="4.3" stroke="#111" stroke-width="0.3">Tube Diameter</text>
<text transform="translate(839.5,732.8) rotate(-45)" class="sf b" font-size="13.5" fill="#111" text-anchor="middle" dy="4.3" stroke="#111" stroke-width="0.3">Silica Particle</text>
<text transform="translate(856.8,746.5) rotate(-45)" class="sf b" font-size="13.5" fill="#111" text-anchor="middle" dy="4.3" stroke="#111" stroke-width="0.3">Size</text>
<text transform="translate(531.8,735.3) rotate(-45)" class="sf b i" font-size="17" fill="#111" text-anchor="middle" dy="4.3" stroke="#111" stroke-width="0.3">w<tspan font-size="11" dy="3.3">s</tspan><tspan dy="-3.3">: w</tspan><tspan font-size="11" dy="3.3">e</tspan><tspan dy="-3.3">: v</tspan></text>
<rect x="937.3" y="432.7" width="18" height="121" fill="url(#cbar)" stroke="#333" stroke-width="0.7"/>
<line x1="955.3" y1="433" x2="958.6" y2="433" stroke="#111" stroke-width="1"/>
<text x="964.6" y="438.8" class="sf b" font-size="13" fill="#111" stroke="#111" stroke-width="0.3">0.0</text>
<line x1="955.3" y1="457.08" x2="958.6" y2="457.08" stroke="#111" stroke-width="1"/>
<text x="964.6" y="462.4" class="sf b" font-size="13" fill="#111" stroke="#111" stroke-width="0.3">0.2</text>
<line x1="955.3" y1="481.16" x2="958.6" y2="481.16" stroke="#111" stroke-width="1"/>
<text x="964.6" y="486" class="sf b" font-size="13" fill="#111" stroke="#111" stroke-width="0.3">0.4</text>
<line x1="955.3" y1="505.24" x2="958.6" y2="505.24" stroke="#111" stroke-width="1"/>
<text x="964.6" y="509.6" class="sf b" font-size="13" fill="#111" stroke="#111" stroke-width="0.3">0.6</text>
<line x1="955.3" y1="529.32" x2="958.6" y2="529.32" stroke="#111" stroke-width="1"/>
<text x="964.6" y="533.2" class="sf b" font-size="13" fill="#111" stroke="#111" stroke-width="0.3">0.8</text>
<line x1="955.3" y1="553.4" x2="958.6" y2="553.4" stroke="#111" stroke-width="1"/>
<text x="964.6" y="556.8" class="sf b" font-size="13" fill="#111" stroke="#111" stroke-width="0.3">1.0</text>
<circle cx="946.5" cy="575.7" r="3.5" fill="#fff" stroke="#111" stroke-width="1.2"/>
<text x="974.6" y="580.1" class="sf b" font-size="13" fill="#111" stroke="#111" stroke-width="0.3">0.03</text>
<circle cx="946.5" cy="600.6" r="13.4" fill="#fff" stroke="#111" stroke-width="1.2"/>
<text x="974.6" y="605.7" class="sf b" font-size="13" fill="#111" stroke="#111" stroke-width="0.3">0.35</text>
<circle cx="946.5" cy="639.8" r="18.9" fill="#fff" stroke="#111" stroke-width="1.2"/>
<text x="974.6" y="645.3" class="sf b" font-size="13" fill="#111" stroke="#111" stroke-width="0.3">0.67</text>
<circle cx="946.5" cy="688.5" r="23.6" fill="#fff" stroke="#111" stroke-width="1.2"/>
<text x="974.6" y="693.7" class="sf b" font-size="13" fill="#111" stroke="#111" stroke-width="0.3">0.99</text>
</g>
</svg></body></html>
